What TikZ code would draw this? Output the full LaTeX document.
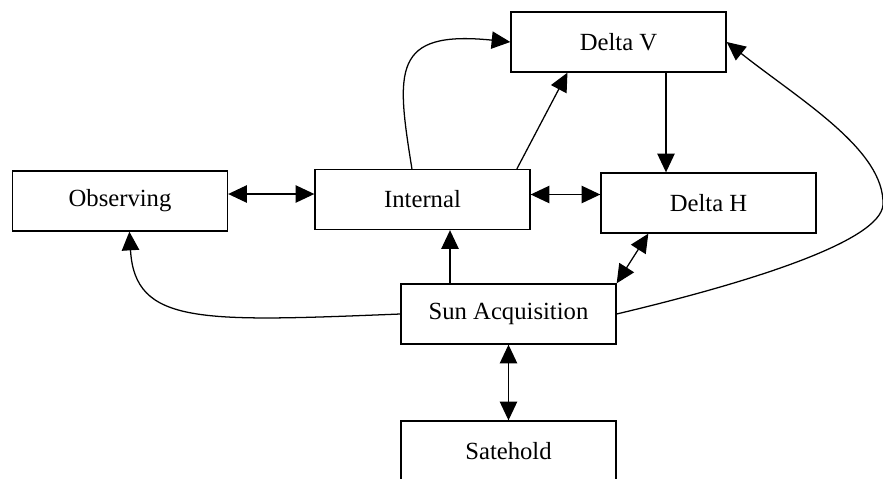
\documentclass[tikz,border=0pt]{standalone}
\usepackage{fontspec}
\setmainfont{Liberation Serif}
\usetikzlibrary{arrows.meta,calc}

\begin{document}
\begin{tikzpicture}[x=0.75pt,y=-0.75pt,
	mode/.style={draw,line width=1pt,minimum width=161.25pt,minimum height=45pt,inner sep=0pt,font=\fontsize{18.5}{22}\selectfont},
	link/.style={line width=0.95pt,-{Triangle[length=14pt,width=13pt]}},
	both/.style={line width=0.95pt,{Triangle[length=14pt,width=13pt]}-{Triangle[length=14pt,width=13pt]}}]
	
	\useasboundingbox (0,0) rectangle (883,479);
	
	\node[mode] (dv) at (618.5,42) {Delta V};
	\node[mode] (obs) at (120,201) {Observing};
	\node[mode] (int) at (422.5,199.5) {Internal};
	\node[mode] (dh) at (708.5,203) {Delta H};
	\node[mode] (sun) at (508.5,314) {Sun Acquisition};
	\node[mode] (sat) at (508.5,451) {Satehold};
	
	\coordinate (oi) at ($(obs.east)+(0,-7)$);
	\draw[both] (oi) -- (oi -| int.west);
	\coordinate (id) at ($(int.east)+(0,-5)$);
	\draw[both] (id) -- (id -| dh.west);
	
	\draw[link] (int.109) .. controls (396,70) and (392,30) .. (dv.west);
	\draw[link] (int.18) -- (dv.211);
	\coordinate (vh) at ($(dv.south)+(47.5,0)$);
	\draw[link] (vh) -- (vh |- dh.north);
	
	\coordinate (si) at ($(sun.north)+(-58.5,0)$);
	\draw[link] (si) -- (si |- int.south);
	\draw[both] (sun.north east) -- (dh.207);
	\draw[both] (sun.south) -- (sat.north);
	\draw[link] (sun.west) .. controls (200,322) and (135,325) .. (obs.-73);
	\draw[link] (sun.east) .. controls (760,280) and (880,240) .. (883,205)
		.. controls (885,150) and (800,100) .. (dv.east);
	
\end{tikzpicture}
\end{document}
